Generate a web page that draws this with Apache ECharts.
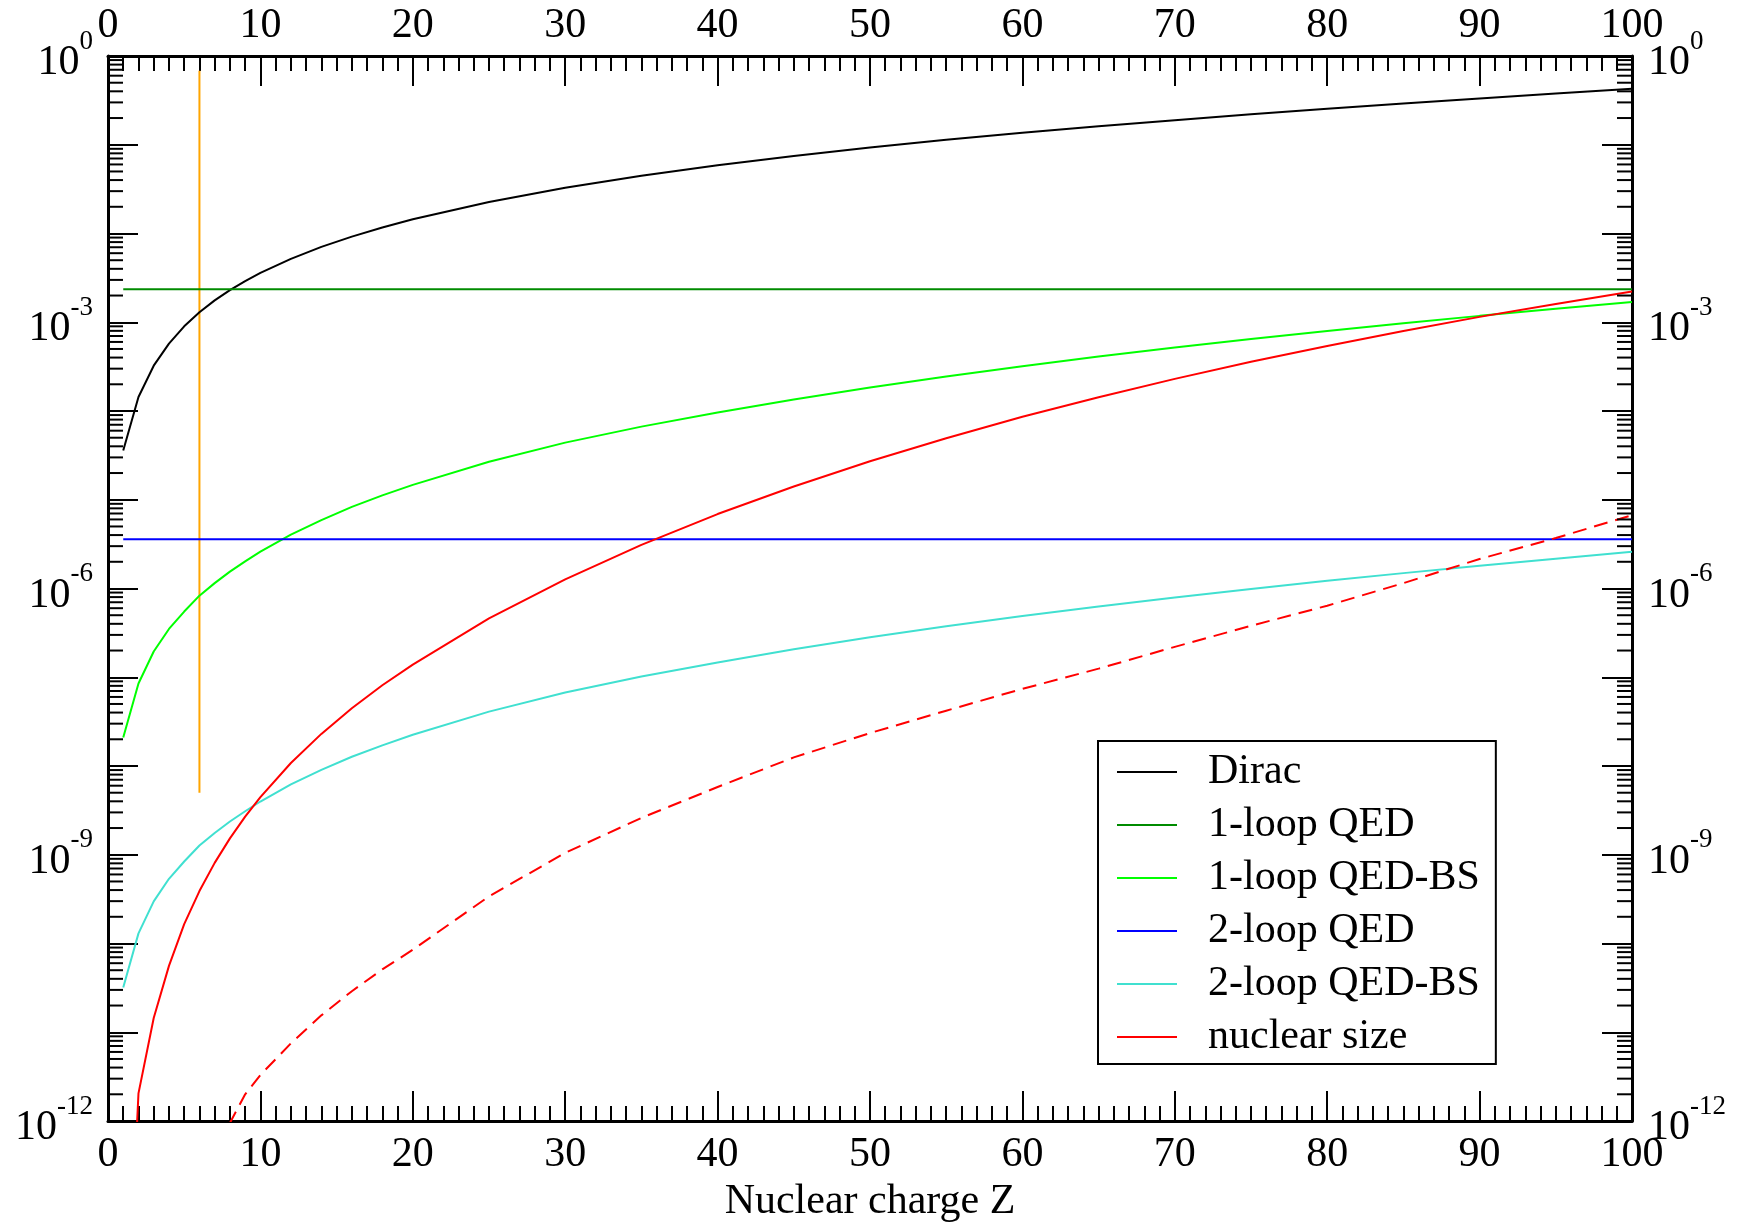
<!DOCTYPE html>
<html lang="en">
<head>
<meta charset="UTF-8">
<title>corrections vs nuclear charge</title>
<style>
    html, body { margin: 0; padding: 0; background: #fff; }
    #chart { width: 1744px; height: 1223px; }
</style>
</head>
<body>
<div id="chart"></div>
<script src="https://cdn.jsdelivr.net/npm/echarts@6/dist/echarts.min.js"></script>
<script>
var zValues = [1, 2, 3, 4, 5, 6, 7, 8, 9, 10, 12, 14, 16, 18, 20, 25, 30, 35, 40, 45, 50, 55, 60, 65, 70, 75, 80, 85, 90, 95, 100];

var dirac = [3.59e-5, 1.44e-4, 3.24e-4, 5.75e-4, 8.99e-4, 1.295e-3, 1.763e-3, 2.30e-3, 2.914e-3, 3.60e-3,
    5.185e-3, 7.06e-3, 9.23e-3, 1.17e-2, 1.446e-2, 2.265e-2, 3.275e-2, 4.478e-2, 5.88e-2, 7.486e-2,
    9.31e-2, 0.1135, 0.1363, 0.1615, 0.1894, 0.2201, 0.2539, 0.2911, 0.332, 0.377, 0.427];

var qed1bs = [2.1e-8, 8.5e-8, 1.95e-7, 3.5e-7, 5.5e-7, 8.3e-7, 1.15e-6, 1.55e-6, 2.02e-6, 2.6e-6,
    4.05e-6, 5.9e-6, 8.3e-6, 1.12e-5, 1.47e-5, 2.68e-5, 4.4e-5, 6.67e-5, 9.63e-5, 1.35e-4,
    1.84e-4, 2.45e-4, 3.2e-4, 4.1e-4, 5.18e-4, 6.46e-4, 7.97e-4, 9.73e-4, 1.18e-3, 1.42e-3, 1.69e-3];

var qed2bs = [3.2e-11, 1.3e-10, 2.98e-10, 5.36e-10, 8.4e-10, 1.27e-9, 1.76e-9, 2.37e-9, 3.09e-9, 3.98e-9,
    6.2e-9, 9.03e-9, 1.27e-8, 1.71e-8, 2.25e-8, 4.1e-8, 6.73e-8, 1.02e-7, 1.47e-7, 2.07e-7,
    2.82e-7, 3.75e-7, 4.9e-7, 6.27e-7, 7.93e-7, 9.88e-7, 1.22e-6, 1.49e-6, 1.81e-6, 2.17e-6, 2.59e-6];

var nucSize = [5e-16, 2.05e-12, 1.45e-11, 5.6e-11, 1.65e-10, 3.9e-10, 8.1e-10, 1.53e-9, 2.69e-9, 4.46e-9,
    1.08e-8, 2.3e-8, 4.48e-8, 8.13e-8, 1.39e-7, 4.6e-7, 1.27e-6, 3.1e-6, 6.9e-6, 1.41e-5,
    2.71e-5, 4.94e-5, 8.6e-5, 1.43e-4, 2.3e-4, 3.58e-4, 5.41e-4, 7.98e-4, 1.15e-3, 1.61e-3, 2.22e-3];

// dashed red curve (no legend entry)
var zDashed = [6, 8, 9, 10, 12, 14, 16, 18, 20, 25, 30, 35, 40, 45, 50, 55, 60, 65, 70, 75, 80, 85, 90, 95, 100];
var nucSizeDashed = [2e-13, 9.5e-13, 2.0e-12, 3.3e-12, 7.5e-12, 1.55e-11, 2.9e-11, 5.1e-11, 8.5e-11, 3.4e-10,
    1.05e-9, 2.6e-9, 5.8e-9, 1.25e-8, 2.35e-8, 4.2e-8, 7.4e-8, 1.25e-7, 2.2e-7, 3.8e-7,
    6.4e-7, 1.15e-6, 2.15e-6, 3.7e-6, 6.7e-6];

// flat lines
var zEnds = [1, 100];
var qed1 = [2.35e-3, 2.35e-3];
var qed2 = [3.58e-6, 3.58e-6];

// orange marker at Z = 6
var markerZ = [6, 6];
var markerY = [5e-9, 0.68];

function pairs(xs, ys) {
    return xs.map(function (x, i) { return [x, ys[i]]; });
}

// minor ticks of the log axis: 2..9 times each decade
var yMinorTicks = [];
for (var e = -12; e < 0; e++) {
    for (var m = 2; m <= 9; m++) {
        yMinorTicks.push([0, Number((m * Math.pow(10, e)).toPrecision(3))]);
    }
}

var FONT = 'Liberation Serif';
var FS = 42;

function yLabel(v) {
    var ex = Math.round(Math.log10(v));
    if (ex % 3 !== 0) return '';
    return '{b|10}{s|' + ex + '}';
}

var yRich = {
    b: { fontFamily: FONT, fontSize: FS, color: '#000', padding: [14, 0, 0, 0], verticalAlign: 'bottom' },
    s: { fontFamily: FONT, fontSize: 27, color: '#000', verticalAlign: 'top' }
};

function xAxisCfg(pos) {
    return {
        type: 'value', position: pos, min: 0, max: 100, interval: 10,
        axisLine: { show: true, onZero: false, lineStyle: { color: '#000', width: 3 } },
        axisTick: { show: true, inside: true, length: 30, lineStyle: { color: '#000', width: 2 } },
        minorTick: { show: true, splitNumber: 10, length: 15, lineStyle: { color: '#000', width: 2 } },
        axisLabel: { show: true, margin: pos === 'top' ? 9 : 13, fontFamily: FONT, fontSize: FS, color: '#000' },
        splitLine: { show: false },
        minorSplitLine: { show: false }
    };
}

function yAxisCfg(pos) {
    return {
        type: 'log', logBase: 10, position: pos, min: 1e-12, max: 1, interval: 1,
        axisLine: { show: true, onZero: false, lineStyle: { color: '#000', width: 3 } },
        axisTick: { show: true, inside: true, length: 30, lineStyle: { color: '#000', width: 2 } },
        axisLabel: {
            show: true, margin: pos === 'left' ? 15 : 16, formatter: yLabel, rich: yRich,
            showMinLabel: true, showMaxLabel: true
        },
        splitLine: { show: false }
    };
}

var chart = echarts.init(document.getElementById('chart'));

var bottomX = xAxisCfg('bottom');
bottomX.name = 'Nuclear charge Z';
bottomX.nameLocation = 'middle';
bottomX.nameGap = 47;
bottomX.nameTextStyle = { fontFamily: FONT, fontSize: FS, color: '#000' };

function lineSeries(name, data, color, dashed) {
    return {
        name: name, type: 'line', data: data, symbol: 'none', smooth: false,
        xAxisIndex: 0, yAxisIndex: 0,
        lineStyle: { color: color, width: 2, type: dashed ? [14, 8] : 'solid' },
        itemStyle: { color: color },
        emphasis: { disabled: true },
        clip: true
    };
}

chart.setOption({
    animation: false,
    backgroundColor: '#fff',
    grid: { left: 108, top: 56, right: 112, bottom: 102, containLabel: false, outerBoundsMode: 'none' },
    xAxis: [bottomX, xAxisCfg('top')],
    yAxis: [yAxisCfg('left'), yAxisCfg('right')],
    legend: {
        orient: 'vertical', left: 1098, top: 741,
        data: ['Dirac', '1-loop QED', '1-loop QED-BS', '2-loop QED', '2-loop QED-BS', 'nuclear size'],
        itemWidth: 60, itemHeight: 14, itemGap: 11,
        itemStyle: { opacity: 0 },
        padding: [10, 16, 6, 18],
        borderColor: '#000', borderWidth: 2, borderRadius: 0,
        backgroundColor: '#fff',
        selectedMode: false,
        formatter: '{a|{name}}',
        textStyle: {
            fontFamily: FONT, fontSize: FS, color: '#000',
            rich: { a: { fontFamily: FONT, fontSize: FS, color: '#000', lineHeight: 40, padding: [0, 0, 0, 26] } }
        }
    },
    series: [
        lineSeries('marker', pairs(markerZ, markerY), '#FFA500', false),
        lineSeries('Dirac', pairs(zValues, dirac), '#000000', false),
        lineSeries('1-loop QED', pairs(zEnds, qed1), '#008B00', false),
        lineSeries('1-loop QED-BS', pairs(zValues, qed1bs), '#00FF00', false),
        lineSeries('2-loop QED', pairs(zEnds, qed2), '#0000FF', false),
        lineSeries('2-loop QED-BS', pairs(zValues, qed2bs), '#40E0D0', false),
        lineSeries('nuclear size', pairs(zValues, nucSize), '#FF0000', false),
        lineSeries('nuclear size higher', pairs(zDashed, nucSizeDashed), '#FF0000', true),
        {
            name: 'yMinor', type: 'custom', xAxisIndex: 0, yAxisIndex: 0,
            data: yMinorTicks, clip: false, silent: true, z: 5,
            encode: { x: 0, y: 1 },
            renderItem: function (params, api) {
                var l = api.coord([0, api.value(1)]);
                var r = api.coord([100, api.value(1)]);
                var st = { stroke: '#000', lineWidth: 2 };
                return {
                    type: 'group', children: [
                        { type: 'line', shape: { x1: l[0], y1: l[1], x2: l[0] + 15, y2: l[1] }, style: st },
                        { type: 'line', shape: { x1: r[0] - 15, y1: r[1], x2: r[0], y2: r[1] }, style: st }
                    ]
                };
            }
        }
    ]
});
</script>
</body>
</html>
